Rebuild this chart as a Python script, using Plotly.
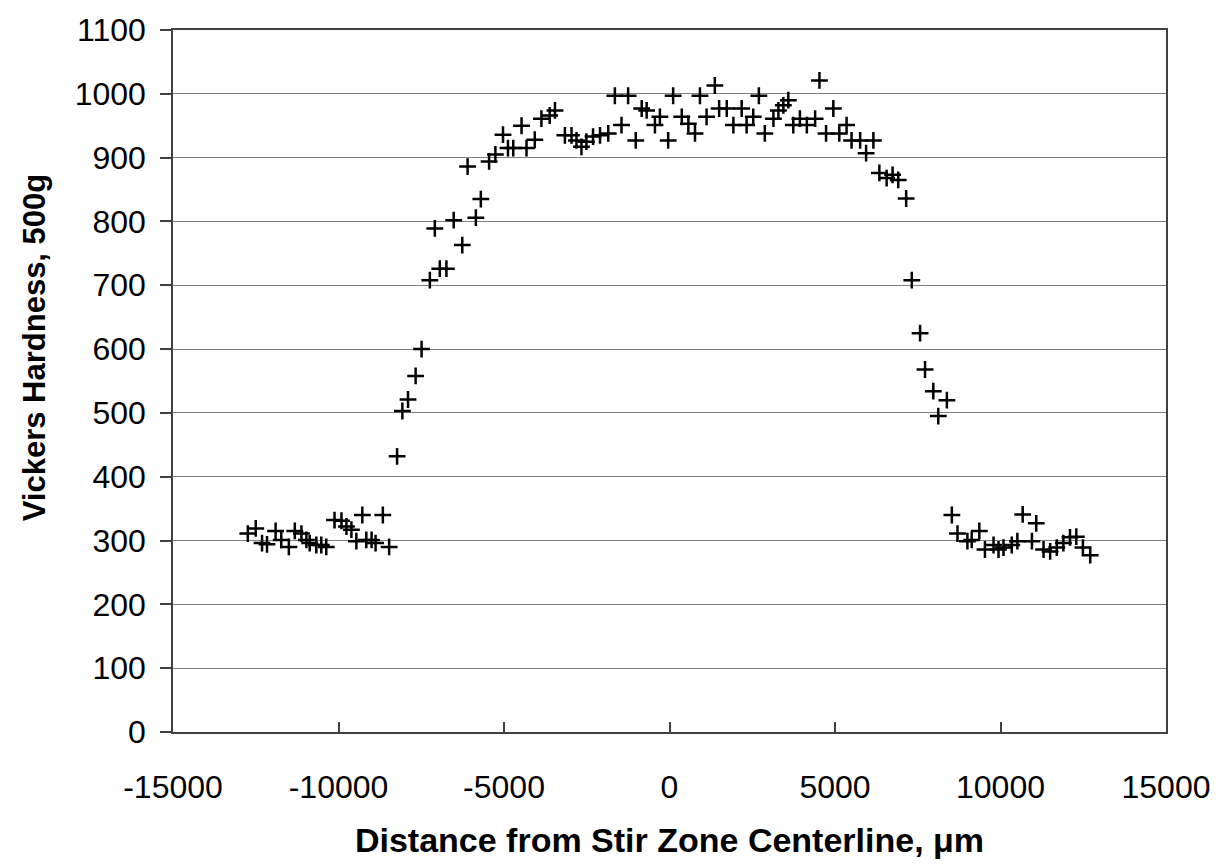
import plotly.graph_objects as go

# Distance from stir zone centerline (um) and Vickers hardness (500 g)
distance_um = [
    -12740, -12500, -12310, -12160, -11900, -11730, -11500, -11320, -11120, -10970,
    -10870, -10670, -10520, -10370, -10120, -9910, -9760, -9610, -9460, -9280,
    -9160, -9000, -8880, -8660, -8470,
    -8230, -8070, -7900, -7670, -7490, -7240, -7090, -6940, -6740, -6520,
    -6260, -6100, -5850, -5700, -5450, -5260, -5030, -4880, -4720, -4470,
    -4320, -4070, -3870, -3620, -3460,
    -3160, -2960, -2810, -2660, -2510, -2310, -2100, -1850, -1650, -1450,
    -1250, -1020, -840, -690, -440, -290, -40, 110, 370, 570,
    770, 920, 1120, 1370, 1500, 1730, 1930, 2180, 2330, 2530,
    2700, 2880, 3140, 3290, 3440, 3590, 3740, 3940, 4150, 4400,
    4530, 4730, 4950, 5130, 5350, 5500, 5760, 5940, 6160, 6340,
    6560, 6740, 6910, 7150,
    7320, 7570, 7720, 7970, 8120, 8380, 8530, 8700,
    9000, 9130, 9360, 9530, 9790, 9940, 10090, 10340, 10510, 10670,
    10950, 11080, 11300, 11500, 11700, 11900, 12100, 12290, 12490, 12710,
]
hardness_hv = [
    311, 319, 296, 294, 315, 301, 290, 315, 311, 301,
    296, 293, 293, 290, 332, 331, 322, 317, 299, 340,
    301, 301, 296, 340, 290,
    432, 503, 521, 558, 600, 708, 789, 726, 726, 802,
    763, 886, 806, 835, 894, 905, 936, 915, 915, 950,
    915, 928, 961, 966, 974,
    935, 935, 927, 917, 925, 933, 935, 938, 997, 951,
    997, 927, 977, 974, 951, 964, 927, 997, 964, 953,
    938, 997, 964, 1013, 977, 977, 951, 977, 951, 964,
    997, 938, 961, 974, 982, 990, 951, 961, 951, 961,
    1021, 938, 977, 938, 951, 927, 927, 907, 927, 876,
    868, 873, 865, 836,
    708, 625, 568, 534, 495, 520, 340, 311,
    299, 301, 315, 286, 293, 286, 289, 293, 299, 341,
    299, 327, 286, 283, 289, 296, 305, 306, 289, 277,
]

x_ticks = [-15000, -10000, -5000, 0, 5000, 10000, 15000]
y_ticks = list(range(0, 1101, 100))

FONT = "Liberation Sans, Arial, sans-serif"

fig = go.Figure(
    go.Scatter(
        x=distance_um,
        y=hardness_hv,
        mode="markers",
        marker=dict(symbol="cross-thin", size=12, color="black",
                    line=dict(color="black", width=2.5)),
        showlegend=False,
    )
)

fig.update_layout(
    width=1228,
    height=867,
    margin=dict(l=173, r=62, t=24, b=135),
    paper_bgcolor="white",
    plot_bgcolor="white",
    font=dict(family=FONT, color="black", size=32),
    annotations=[
        dict(text="<b>Vickers Hardness, 500g</b>", textangle=-90,
             xref="paper", yref="paper", x=-0.14, y=0.548,
             xanchor="center", yanchor="middle", showarrow=False,
             font=dict(size=31, color="black", family=FONT)),
    ],
)

fig.update_xaxes(
    range=[-15000, 15000],
    tickvals=x_ticks,
    ticktext=[str(v) for v in x_ticks],
    ticks="inside",
    ticklen=10,
    tickwidth=1.5,
    tickcolor="#404040",
    showgrid=False,
    zeroline=False,
    showline=True,
    linecolor="#404040",
    linewidth=1.5,
    mirror=True,
    ticklabelstandoff=26,
    tickfont=dict(size=32),
    title=dict(text="<b>Distance from Stir Zone Centerline, μm</b>",
               font=dict(size=34), standoff=24),
)

fig.update_yaxes(
    range=[0, 1100],
    tickvals=y_ticks,
    ticks="outside",
    ticklen=11,
    tickwidth=1.5,
    tickcolor="#404040",
    showgrid=True,
    gridcolor="#808080",
    gridwidth=1.2,
    zeroline=False,
    showline=True,
    linecolor="#404040",
    linewidth=1.5,
    mirror=True,
    ticklabelstandoff=8,
    tickfont=dict(size=32),
)

fig.write_html("out.html")
